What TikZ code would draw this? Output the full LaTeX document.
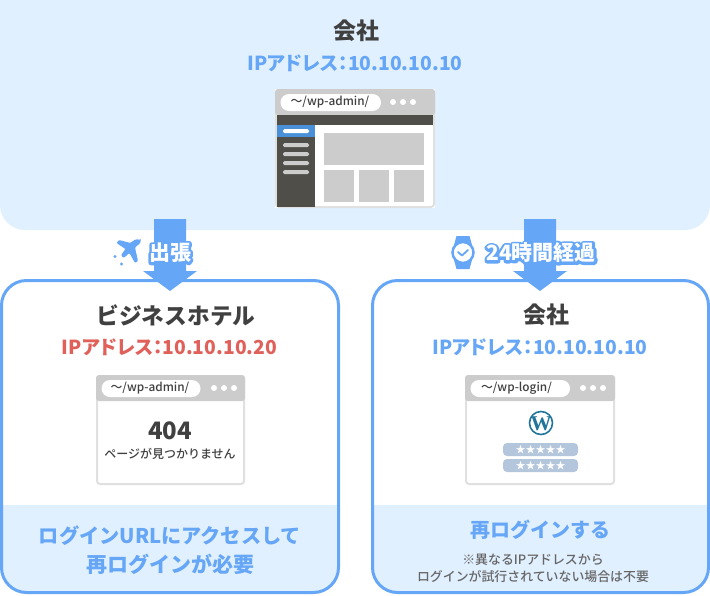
\documentclass[tikz,border=0pt]{standalone}
\usepackage{fontspec}
\setmainfont{Noto Sans CJK JP}
\newfontfamily\jpmedium{Noto Sans CJK JP Medium}
\definecolor{sky}{HTML}{E1F0FF}
\definecolor{bluish}{HTML}{66A6F6}
\definecolor{reddish}{HTML}{E0605A}
\definecolor{inktext}{HTML}{404040}
\definecolor{notetext}{HTML}{666666}
\definecolor{chrome}{HTML}{CCCCCC}
\definecolor{rimgray}{HTML}{E0E0E0}
\definecolor{darkbar}{HTML}{504E49}
\definecolor{menublue}{HTML}{4A90D9}
\definecolor{fieldblue}{HTML}{B4C6DC}
\definecolor{wpblue}{HTML}{21759B}
\newcommand{\pxfont}[1]{\fontsize{#1}{#1}\selectfont}
\newcommand{\rimtext}[1]{\rlap{\special{pdf:code q 1 Tr 5 w 0.4 0.651 0.965 RG 1 j}#1\special{pdf:code Q}}\textcolor{white}{#1}}
\tikzset{
	title/.style={font=\pxfont{23}\bfseries, text=inktext, inner sep=0pt},
	ipline/.style={font=\pxfont{19.3}\bfseries\addfontfeature{RawFeature=+palt}, text=bluish, inner sep=0pt},
	advice/.style={font=\pxfont{20}\bfseries, text=bluish, inner sep=0pt},
	note/.style={font=\pxfont{12.9}\jpmedium, text=notetext, inner sep=0pt},
	urltext/.style={font=\pxfont{11.8}\jpmedium\addfontfeature{RawFeature=+palt}, text=inktext, inner sep=0pt},
	tag/.style={font=\pxfont{21}\bfseries, inner sep=0pt},
	card/.style={rounded corners=25pt},
	pane/.style={fill=chrome},
}
% browser window: #1 left, #2 top, #3 right, #4 bottom, #5 pill right end, #6 header bottom
\newcommand{\browser}[6]{
	\fill[white] (#1,#2) rectangle (#3,#4);
	\draw[rimgray, line width=2pt, rounded corners=3pt] (#1+1,#2+1) rectangle (#3-1,#4-1);
	\fill[chrome, rounded corners=3pt] (#1,#2) -- (#3,#2) -- (#3,#6) -- (#1,#6) -- cycle;
	\fill[white, rounded corners=8.5pt] (#1+5.5,#2+5) rectangle (#5,#2+22);
	\foreach \k in {118,128,138} \fill[white] (#1+\k,#2+13) circle (3);
}
\begin{document}
\begin{tikzpicture}[x=1pt, y=-1pt]
	\useasboundingbox (0,0) rectangle (710,595);
	\fill[white] (0,0) rectangle (710,595);
	% top panel
	\fill[sky, rounded corners=25pt] (0,-30) rectangle (710,230);
	\node[title] (office) at (356,31) {会社};
	\node[ipline] (officeip) at (355,63) {IPアドレス：10.10.10.10};
	\browser{275}{89}{435}{208}{381}{115}
	\node[urltext] (adminurl) at (330,102.5) {〜/wp-admin/};
	\fill[darkbar] (277,115) rectangle (433,125);
	\fill[darkbar] (277,125) rectangle (315,207);
	\fill[menublue] (277,125) rectangle (315,137);
	\fill[white, rounded corners=1.5pt] (283,129) rectangle (309,133);
	\foreach \y in {145,154,163,172} \fill[chrome, rounded corners=1.5pt] (283,\y-2) rectangle (309,\y+2);
	\fill[pane] (324,133) rectangle (424,165);
	\foreach \x in {324,359,394} \fill[pane] (\x,170) rectangle (\x+30,202);
	% hotel card
	\fill[white, card] (1.5,280.5) rectangle (338.5,592.5);
	\begin{scope}
		\clip[card] (1.5,280.5) rectangle (338.5,592.5);
		\fill[sky] (0,505) rectangle (340,595);
	\end{scope}
	\draw[bluish, line width=3pt, card] (1.5,280.5) rectangle (338.5,592.5);
	\node[title, font=\pxfont{22.7}\bfseries] (hotel) at (176,315) {ビジネスホテル};
	\node[ipline, text=reddish] (hotelip) at (169.5,347) {IPアドレス：10.10.10.20};
	\browser{96}{375}{245}{485}{200.5}{401}
	\node[urltext] (hotelurl) at (150,388.5) {〜/wp-admin/};
	\node[font=\pxfont{24}\bfseries, text=inktext, inner sep=0pt] (errcode) at (170,431) {404};
	\node[font=\pxfont{12}\jpmedium, text=inktext, inner sep=0pt] (errtext) at (170,454) {ページが見つかりません};
	\node[advice, font=\pxfont{20.2}\bfseries] (adviceone) at (170,536) {ログインURLにアクセスして};
	\node[advice, font=\pxfont{21}\bfseries] (advicetwo) at (170,564) {再ログインが必要};
	% office card
	\fill[white, card] (372.5,280.5) rectangle (708.5,592.5);
	\begin{scope}
		\clip[card] (372.5,280.5) rectangle (708.5,592.5);
		\fill[sky] (370,505) rectangle (710,595);
	\end{scope}
	\draw[bluish, line width=3pt, card] (372.5,280.5) rectangle (708.5,592.5);
	\node[title] (later) at (546,315) {会社};
	\node[ipline] (laterip) at (540,347) {IPアドレス：10.10.10.10};
	\browser{465}{375}{615}{485}{570}{401}
	\node[urltext] (loginurl) at (516.5,388.5) {〜/wp-login/};
	% logo
	\draw[wpblue, line width=1.6pt] (541,423) circle (11.5);
	\node[font=\fontspec{Liberation Serif}\pxfont{21}\bfseries, text=wpblue, inner sep=0pt] (logo) at (541,424) {W};
	\foreach \y in {443,459} \fill[fieldblue, rounded corners=4pt] (503,\y) rectangle (578,\y+13);
	\node[font=\pxfont{10}, text=white, inner sep=0pt] (starsone) at (540.5,449.5) {★★★★★};
	\node[font=\pxfont{10}, text=white, inner sep=0pt] (starstwo) at (540.5,465.5) {★★★★★};
	\node[advice] (againtext) at (540,530) {再ログインする};
	\node[note] (noteone) at (533,560) {※異なるIPアドレスから};
	\node[note] (notetwo) at (533,577) {ログインが試行されていない場合は不要};
	% arrows
	\foreach \x in {170,540} \fill[bluish] (\x-16,219) -- (\x+16,219) -- (\x+16,271) -- (\x+27,271) -- (\x,291) -- (\x-27,271) -- (\x-16,271) -- cycle;
	\node[tag] (trip) at (170,253) {\rimtext{出張}};
	\node[tag] (elapsed) at (541,253) {\rimtext{24時間経過}};
	% plane
	\fill[bluish, rounded corners=1pt] (140.5,240) .. controls (136,238.5) and (133,240.5) .. (130.5,243) -- (119,240) -- (116.5,243) -- (125.5,249) -- (121,255) -- (123.5,258) -- (129.5,253) -- (135,263) -- (138,261) -- (135,247.5) .. controls (137.5,245.5) and (141,243) .. (140.5,240) -- cycle;
	\foreach \x/\y in {115/256.5,121.5/264} \fill[bluish] (\x,\y) circle (1.7);
	% watch
	\fill[bluish] (456.5,236) -- (469.5,236) -- (472,245) -- (472,260) -- (469.5,269) -- (456.5,269) -- (454,260) -- (454,245) -- cycle;
	\fill[white] (463,252.5) circle (10);
	\draw[bluish, line width=2.5pt] (463,252.5) circle (10.5);
	\draw[bluish, line width=1.8pt, line cap=round, line join=round] (458,252) -- (462,255.5) -- (468,250);
\end{tikzpicture}
\end{document}
